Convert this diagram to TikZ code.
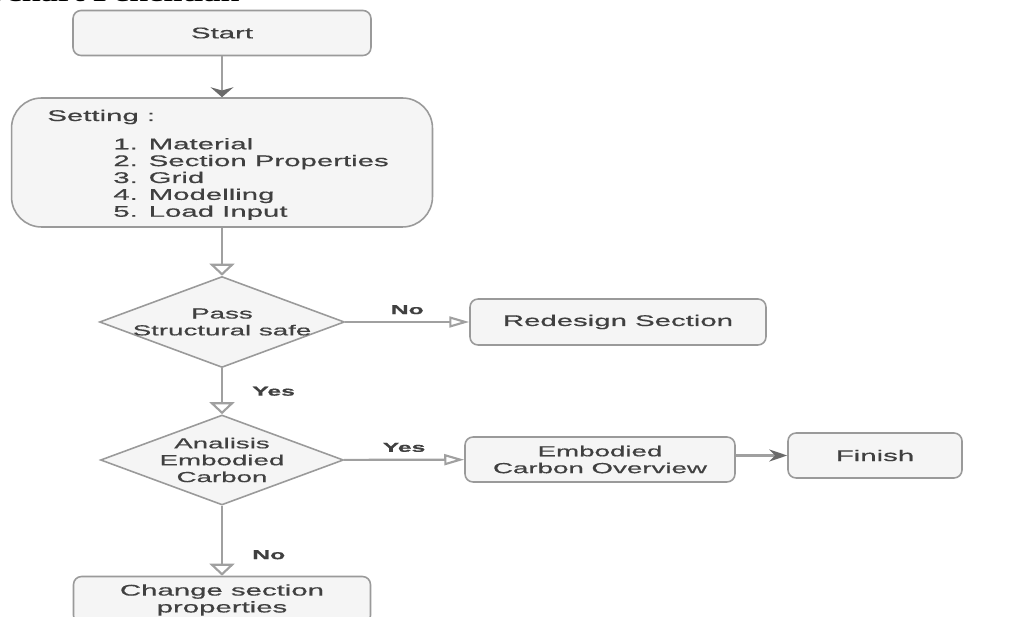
\documentclass[tikz,border=0pt]{standalone}
\usepackage{fontspec}
\setmainfont{Liberation Sans}[FakeStretch=1.9, FakeBold=0.6]
\newfontfamily\titlefont{Liberation Serif}[FakeStretch=1.5]
\usetikzlibrary{shapes.geometric,arrows.meta,positioning}
\definecolor{boxfill}{HTML}{F5F5F5}
\definecolor{boxline}{HTML}{9A9A9A}
\definecolor{linegray}{HTML}{A0A0A0}
\definecolor{tipdark}{HTML}{6A6A6A}
\definecolor{txtgray}{HTML}{404040}
\tikzstyle{procbox}   = [rectangle, rounded corners=0.16cm, draw=boxline, fill=boxfill, line width=0.9pt, text=txtgray, align=center, font=\fontsize{8.8}{9.6}\selectfont, inner sep=0pt]
\tikzstyle{decision}  = [diamond, draw=boxline, fill=boxfill, line width=0.9pt, inner sep=0pt]
\tikzstyle{dtext}     = [text=txtgray, align=center, inner sep=0pt, font=\fontsize{8.3}{9.6}\selectfont]
\tikzstyle{ltext}     = [text=txtgray, align=left, inner sep=0pt, font=\fontsize{8.8}{9.6}\selectfont]
\tikzstyle{lbl}       = [text=txtgray, inner sep=1pt, font=\fontsize{7.4}{9}\selectfont\bfseries]
\tikzstyle{flowv}     = [draw=linegray, line width=1.2pt, -{Stealth[length=0.2cm, width=0.46cm, color=tipdark]}]
\tikzstyle{flowh}     = [draw=linegray, line width=1.2pt, -{Stealth[length=0.36cm, width=0.24cm, color=tipdark]}]
\tikzstyle{openv}     = [draw=linegray, line width=1.2pt, -{Triangle[open, length=0.24cm, width=0.5cm, fill=white]}]
\tikzstyle{openh}     = [draw=linegray, line width=1.2pt, -{Triangle[open, length=0.4cm, width=0.22cm, fill=white]}]

\begin{document}
\begin{tikzpicture}[x=0.02cm, y=-0.02cm]
		\useasboundingbox (0,0) rectangle (1020,617);
		\clip (0,0) rectangle (1020,617);

		% title, cut at the top edge
		\node[font=\titlefont\bfseries\fontsize{13}{15}\selectfont, anchor=base east, inner sep=0pt] (title) at (240,2) {Flowchart Penelitian};

		% main column
		\node[procbox, minimum width=5.96cm, minimum height=0.9cm] (start) at (222,33) {Start};
		\node[procbox, rounded corners=0.6cm, minimum width=8.42cm, minimum height=2.58cm] (setting) at (222,162.5) {};
		\node[ltext, anchor=west] (settitle) at (47,117) {Setting :};
		\node[ltext, anchor=west] (setlist) at (113,179) {1. Material\\2. Section Properties\\3. Grid\\4. Modelling\\5. Load Input};
		\node[decision, minimum width=4.9cm, minimum height=1.82cm, label={[dtext]center:{Pass\\Structural safe}}] (pass) at (222,322) {};
		\node[decision, minimum width=4.86cm, minimum height=1.8cm, label={[dtext]center:{Analisis\\Embodied\\Carbon}}] (carbon) at (222,460) {};
		\node[procbox, minimum width=5.94cm, minimum height=0.94cm] (change) at (222,600) {Change section\\properties};

		% right side
		\node[procbox, minimum width=5.92cm, minimum height=0.92cm] (redesign) at (618,322) {Redesign Section};
		\node[dtext, draw=boxline, fill=boxfill, line width=0.9pt, rounded corners=0.16cm, minimum width=5.4cm, minimum height=0.9cm] (overview) at (600,459.5) {Embodied\\Carbon Overview};
		\node[procbox, minimum width=3.48cm, minimum height=0.9cm] (finish) at (875,455.5) {Finish};

		% connectors
		\draw[flowv] (start) -- (setting);
		\draw[openv] (setting) -- (pass);
		\draw[openh] (pass) -- node[lbl, above=0.1cm] {No} (redesign);
		\draw[openv] (pass) -- node[lbl, right=0.55cm] {Yes} (carbon);
		\draw[openh] (carbon) -- node[lbl, above=0.1cm] {Yes} (overview);
		\draw[flowh] (overview.east |- finish.west) -- (finish.west);
		\draw[openv] (carbon) -- node[lbl, right=0.55cm, pos=0.7] {No} (change);
	\end{tikzpicture}
\end{document}
